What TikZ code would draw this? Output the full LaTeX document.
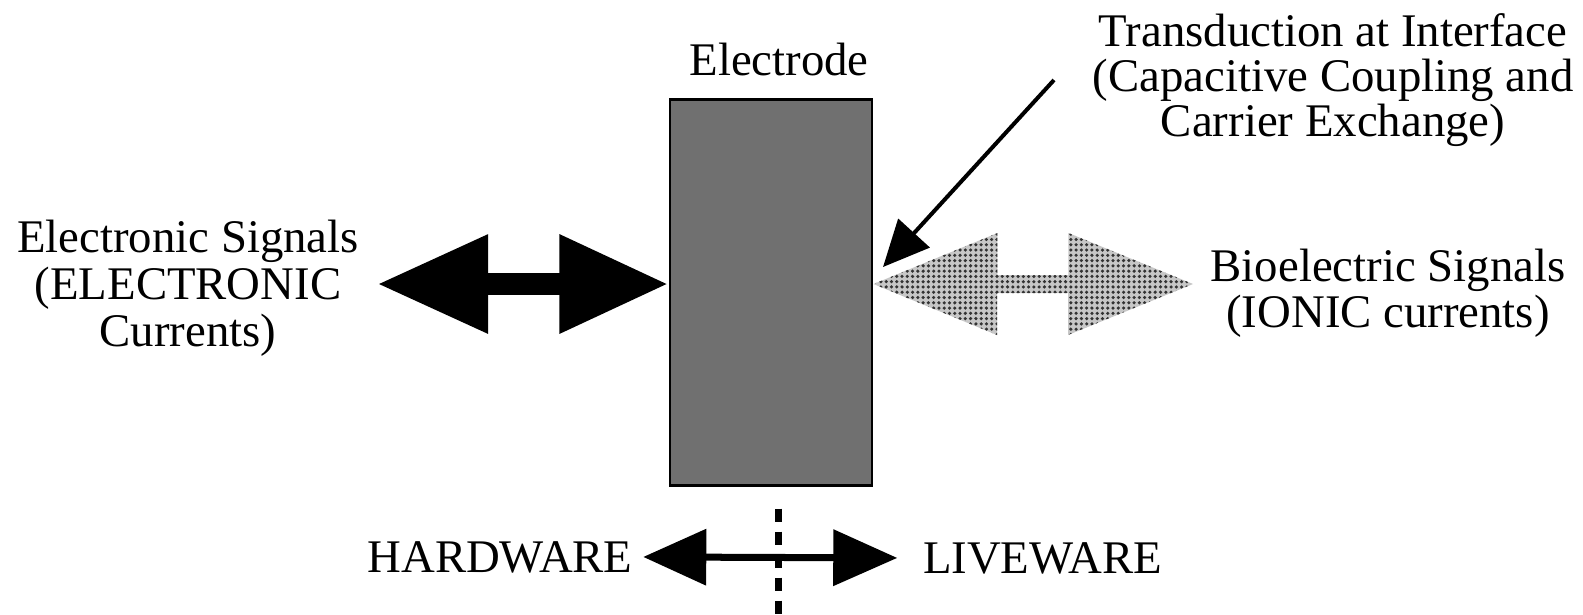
\documentclass[tikz,border=0pt]{standalone}
\usepackage{fontspec}
\setmainfont{Liberation Serif}
\usetikzlibrary{positioning,arrows.meta,patterns.meta}

\begin{document}
\begin{tikzpicture}[
    x=0.01cm, y=-0.01cm,
    font=\fontsize{13.3}{13.1}\selectfont,
    textblock/.style={align=center, inner sep=0pt},
    electrodebox/.style={
        draw=black,
        line width=0.8pt,
        fill=black!56,
        minimum width=2.02cm,
        minimum height=3.85cm,
        inner sep=0pt
    },
    blockarrow/.style={line width=0.22cm, {Triangle[length=1.11cm,width=0.93cm]}-{Triangle[length=1.09cm,width=0.93cm]}},
    sidearrow/.style={line width=0.07cm, {Triangle[length=0.63cm,width=0.55cm]}-{Triangle[length=0.64cm,width=0.55cm]}},
    pointer/.style={line width=0.04cm, -{Triangle[length=0.46cm,width=0.42cm]}},
    hatched/.style={fill=black!22, postaction={pattern={Dots[distance=1.5pt,radius=0.5pt]}, pattern color=black!80}},
    divider/.style={line width=0.07cm, dash pattern=on 0.13cm off 0.1cm}
]
\useasboundingbox (0,0) rectangle (1583,614);

\node[electrodebox] (electrode) at (771,292.5) {};
\node[anchor=base] (electrodelabel) at (779,75) {Electrode};

\node[textblock, font=\fontsize{13.3}{13.4}\selectfont] (electronic) at (188,288) {Electronic Signals\\(ELECTRONIC\\Currents)};
\node[textblock] (bioelectric) at (1388,293) {Bioelectric Signals\\(IONIC currents)};
\node[textblock, font=\fontsize{13.3}{12.9}\selectfont] (transduction) at (1333,80) {Transduction at Interface\\(Capacitive Coupling and\\Carrier Exchange)};

\node[anchor=base, inner sep=0pt] (hardware) at (500,572) {HARDWARE};
\node[anchor=base, inner sep=0pt] (liveware) at (1042.5,573) {LIVEWARE};

\coordinate (eltip) at (377,284);
\coordinate (biotip) at (1193,284);
\coordinate (iface) at (883,267);

% signal arrows either side of the electrode
\draw[blockarrow] (eltip) -- (electrode.west |- eltip);
\path[hatched] (electrode.east |- biotip) -- ++(124,-51) -- ++(0,42) -- ++(71,0) -- ++(0,-42)
    -- (biotip) -- ++(-125,51) -- ++(0,-42) -- ++(-71,0) -- ++(0,42) -- cycle;

\draw[pointer] ([xshift=-0.38cm]transduction.west) -- (iface);

% hardware / liveware split
\draw[sidearrow] ([xshift=0.1cm]hardware.east) -- ([xshift=-0.25cm]liveware.west);
\draw[divider] ([xshift=0.07cm,yshift=-0.22cm]electrode.south) -- ++(0,110);

\end{tikzpicture}
\end{document}
